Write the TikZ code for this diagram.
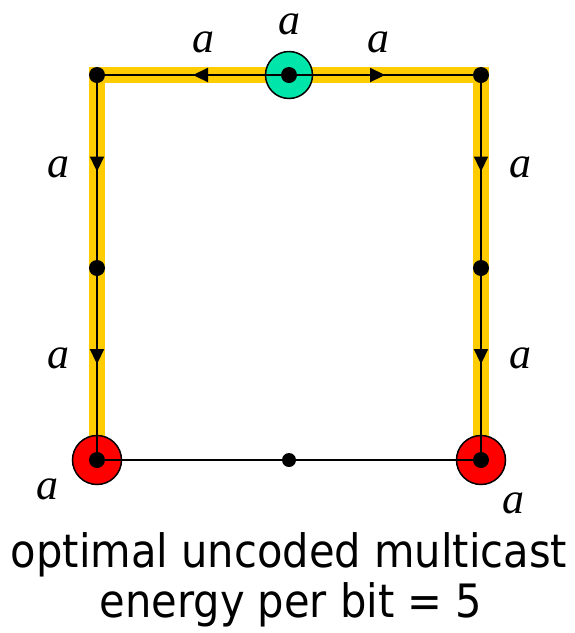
\documentclass[tikz,border=0pt]{standalone}
\usepackage{fontspec}
\setmainfont{Liberation Serif}
\newfontfamily\capfont[FakeStretch=0.905]{DejaVu Sans}
\usetikzlibrary{arrows.meta,decorations.markings}
\definecolor{band}{RGB}{255,204,0}
\definecolor{src}{RGB}{0,230,170}
\definecolor{sink}{RGB}{255,0,0}
\tikzset{
  dot/.style={circle,fill=black,inner sep=0pt,minimum size=16pt},
  smalldot/.style={circle,fill=black,inner sep=0pt,minimum size=14pt},
  bigcirc/.style={circle,draw=black,line width=1.5pt,inner sep=0pt,minimum size=47pt},
  yband/.style={line width=16pt,draw=band,line join=miter},
  edge/.style={line width=2.2pt,draw=black},
  arr/.style={edge,decoration={markings,mark=at position #1 with {\arrow{Triangle[length=15pt,width=14pt]}}},postaction=decorate},
  lab/.style={font=\fontsize{44}{44}\selectfont\itshape,inner sep=0pt},
  caption/.style={font=\capfont\fontsize{46}{50}\selectfont,inner sep=0pt,anchor=base},
}
\begin{document}
\begin{tikzpicture}[x=1pt,y=-1pt]
\useasboundingbox (0,0) rectangle (575,633);
\coordinate (tl) at (97,75);
\coordinate (tc) at (289,75);
\coordinate (tr) at (481,75);
\coordinate (ml) at (97,268);
\coordinate (mr) at (481,268);
\coordinate (bl) at (97,460);
\coordinate (bc) at (289,460);
\coordinate (br) at (481,460);
% yellow band
\draw[yband] (bl) -- (tl) -- (tr) -- (br);
% circles
\node[bigcirc,fill=src] (S) at (tc) {};
\node[bigcirc,fill=sink,minimum size=49pt] (R1) at (bl) {};
\node[bigcirc,fill=sink,minimum size=49pt] (R2) at (br) {};
% edges
\draw[arr=0.5] (tc) -- (tl);
\draw[arr=0.5] (tc) -- (tr);
\draw[arr=0.5] (tl) -- (ml);
\draw[arr=0.5] (ml) -- (bl);
\draw[arr=0.5] (tr) -- (mr);
\draw[arr=0.5] (mr) -- (br);
\draw[edge] (bl) -- (bc) -- (br);
% dots
\node[dot] (Ntl) at (tl) {};
\node[dot] (Ntc) at (tc) {};
\node[dot] (Ntr) at (tr) {};
\node[dot] (Nml) at (ml) {};
\node[dot] (Nmr) at (mr) {};
\node[dot] (Nbl) at (bl) {};
\node[smalldot] (Nbc) at (bc) {};
\node[dot] (Nbr) at (br) {};
% labels
\node[lab] (a1) at (203,42) {a};
\node[lab] (a2) at (289,24) {a};
\node[lab] (a3) at (378,42) {a};
\node[lab] (a4) at (58,167) {a};
\node[lab] (a5) at (58,358) {a};
\node[lab] (a6) at (520,167) {a};
\node[lab] (a7) at (520,358) {a};
\node[lab] (a8) at (47,489) {a};
\node[lab] (a9) at (513,503) {a};
% caption
\node[caption] (cap1) at (289,567) {optimal uncoded multicast};
\node[caption] (cap2) at (291,617) {energy per bit = 5};
\end{tikzpicture}
\end{document}
